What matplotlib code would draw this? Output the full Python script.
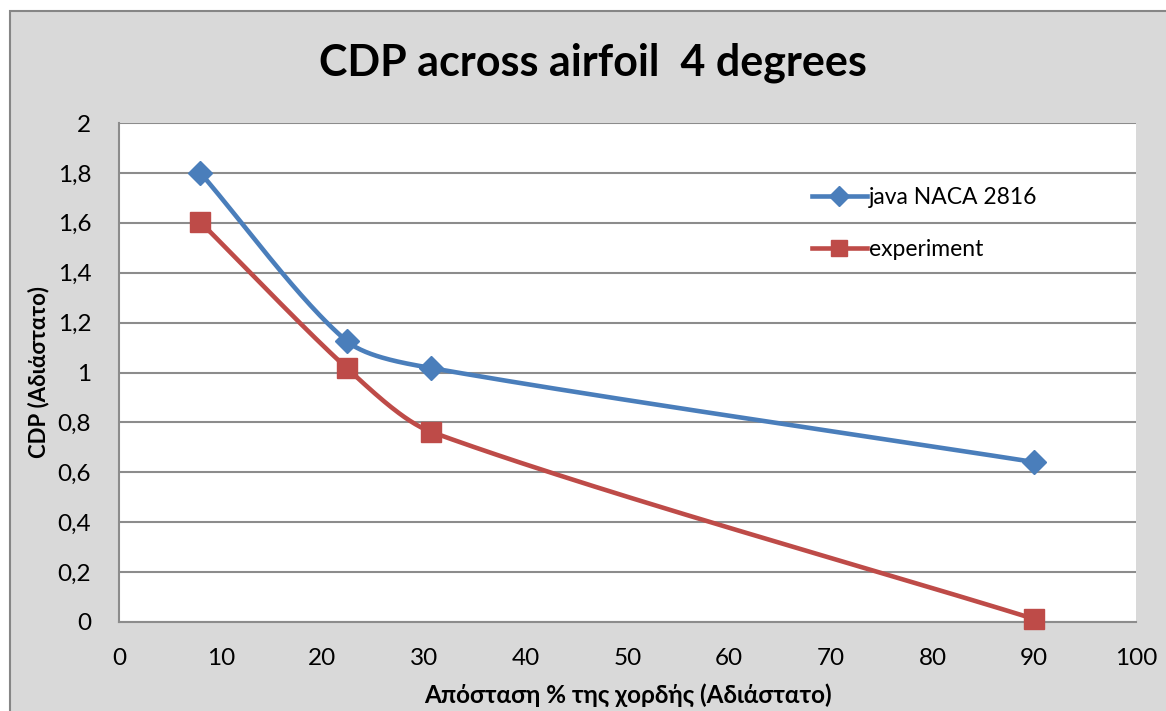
import numpy as np
import matplotlib
matplotlib.use("Agg")
import matplotlib.pyplot as plt
from matplotlib.patches import Rectangle
from matplotlib.ticker import FuncFormatter

plt.rcParams["font.family"] = ["Lato", "Open Sans", "DejaVu Sans"]

# data
x_java = [8, 22.4, 30.7, 90]
y_java = [1.80, 1.126, 1.018, 0.641]
x_exp = [8, 22.4, 30.7, 90]
y_exp = [1.603, 1.018, 0.762, 0.012]

labels = ["java NACA 2816", "experiment"]
colors = ["#4a7ebb", "#be4b48"]
xticks = list(range(0, 101, 10))
yticks = [round(0.2 * i, 1) for i in range(11)]


def smooth(xs, ys, sx=100.0 / 1017, sy=2.0 / 499, n=50, k=0.42):
    # smoothed line like Excel draws it: bezier segments, tangent along the
    # neighbour chord, handle length scaled by the segment length (pixel space)
    p = np.column_stack([np.array(xs) / sx, np.array(ys) / sy])
    m = len(p)
    tang = []
    for i in range(m):
        d = p[min(i + 1, m - 1)] - p[max(i - 1, 0)]
        tang.append(d / np.hypot(*d))
    out = []
    for i in range(m - 1):
        p1, p2 = p[i], p[i + 1]
        L = np.hypot(*(p2 - p1))
        c1 = p1 + tang[i] * L * k / 1.5
        c2 = p2 - tang[i + 1] * L * k / 1.5
        t = np.linspace(0, 1, n)[:, None]
        seg = ((1 - t) ** 3) * p1 + 3 * ((1 - t) ** 2) * t * c1 + 3 * (1 - t) * t ** 2 * c2 + t ** 3 * p2
        out.append(seg if i == 0 else seg[1:])
    out = np.vstack(out)
    return out[:, 0] * sx, out[:, 1] * sy


fig = plt.figure(figsize=(11.66, 7.11), dpi=100)
fig.patch.set_facecolor("white")
fig.patches.append(Rectangle((10 / 1166, -0.01), 1.0, 1 - 11 / 711 + 0.01,
                             transform=fig.transFigure, facecolor="#d9d9d9",
                             edgecolor="#868686", linewidth=1.5, zorder=-5))

ax = fig.add_axes([119 / 1166, 1 - 622 / 711, (1136 - 119) / 1166, (622 - 123) / 711])
ax.set_facecolor("white")

for xs, ys, lab, c, m, ms in [(x_java, y_java, labels[0], colors[0], "D", 12.5),
                               (x_exp, y_exp, labels[1], colors[1], "s", 15)]:
    sx_, sy_ = smooth(xs, ys)
    ax.plot(sx_, sy_, color=c, lw=3.3, solid_capstyle="round", zorder=3)
    ax.plot(xs, ys, linestyle="none", marker=m, markersize=ms, color=c, zorder=4, clip_on=False)
    ax.plot([], [], color=c, lw=3.3, marker=m, markersize=ms * 0.8, label=lab)

ax.set_xlim(0, 100)
ax.set_ylim(0, 2)
ax.set_xticks(xticks)
ax.set_yticks(yticks)
ax.yaxis.set_major_formatter(FuncFormatter(lambda v, p: ("%g" % round(v, 1)).replace(".", ",")))
ax.tick_params(length=0, labelsize=17.5)
ax.tick_params(axis="x", pad=19)
ax.tick_params(axis="y", pad=20)
ax.grid(axis="y", color="#8c8c8c", linewidth=1.5)
ax.set_axisbelow(True)
for s in ["top", "right"]:
    ax.spines[s].set_visible(False)
for s in ["left", "bottom"]:
    ax.spines[s].set_color("#8c8c8c")
    ax.spines[s].set_linewidth(1.5)

ax.set_xlabel("Απόσταση % της χορδής (Αδιάστατο)", fontsize=17.5, fontweight="bold", labelpad=10)
ax.set_ylabel("CDP (Αδιάστατο)", fontsize=16, fontweight="bold", labelpad=6)

fig.text(593 / 1166, 1 - 63 / 711, "CDP across airfoil  4 degrees", fontsize=31,
         fontweight="bold", ha="center", va="center")

ax.legend(loc="upper left", bbox_to_anchor=(0.672, 0.89), frameon=False, fontsize=16.5,
          handlelength=2.4, handletextpad=0.1, labelspacing=1.35, borderaxespad=0)

fig.savefig("out.png", dpi=100, facecolor=fig.get_facecolor())
